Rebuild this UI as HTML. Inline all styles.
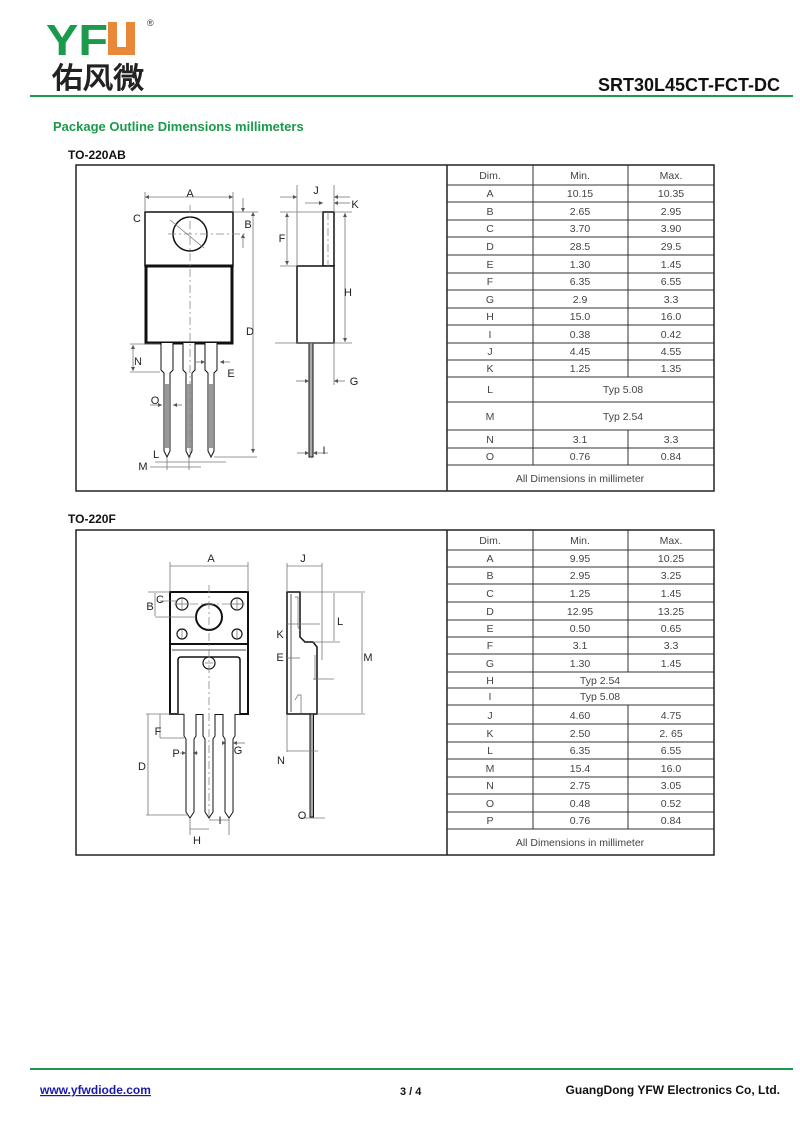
<!DOCTYPE html>
<html><head><meta charset="utf-8"><style>
html,body{margin:0;padding:0;background:#fff;width:800px;height:1130px;overflow:hidden}
svg{display:block}
text{font-family:"Liberation Sans",Arial,sans-serif}
.t{font-size:10.5px;fill:#444;text-anchor:middle}
.lb{font-family:"DejaVu Sans","Liberation Sans",sans-serif;font-size:11px;fill:#222;text-anchor:middle}
.dim{stroke:#777;stroke-width:0.8;fill:none}
.cl{stroke:#888;stroke-width:0.8;stroke-dasharray:8,3,2,3;fill:none}
</style></head><body>
<svg width="800" height="1130" viewBox="0 0 800 1130" xmlns="http://www.w3.org/2000/svg">
<defs>
<marker id="a" viewBox="0 0 6 6" refX="6" refY="3" markerWidth="5" markerHeight="5" orient="auto-start-reverse"><path d="M0,0 L6,3 L0,6 z" fill="#555"/></marker>
</defs>
<!-- header -->
<text x="46" y="55" font-size="44" font-weight="bold" fill="#1a9a4a" font-family="Liberation Sans" textLength="62" lengthAdjust="spacingAndGlyphs">YF</text>
<path d="M108,22 h9 v25 h9 v-25 h9 v33 h-27 z" fill="#e8893a"/>
<text x="147" y="26" font-size="9" fill="#333">®</text>
<text x="52" y="88" font-size="29" fill="#222" font-weight="bold" font-family="Liberation Sans,'Noto Sans CJK SC',sans-serif" textLength="92" lengthAdjust="spacingAndGlyphs">佑风微</text>
<line x1="30" y1="96" x2="793" y2="96" stroke="#1a9a4a" stroke-width="2"/>
<text x="780" y="91" font-size="18" font-weight="bold" fill="#111" text-anchor="end">SRT30L45CT-FCT-DC</text>
<text x="53" y="131" font-size="13" font-weight="bold" fill="#1a9a4a">Package Outline Dimensions millimeters</text>
<text x="68" y="159" font-size="12" font-weight="bold" fill="#111">TO-220AB</text>
<text x="68" y="523" font-size="12" font-weight="bold" fill="#111">TO-220F</text>

<!-- box 1 -->
<rect x="76" y="165" width="638" height="326" fill="none" stroke="#222" stroke-width="1.5"/>
<line x1="447" y1="165" x2="447" y2="491" stroke="#222" stroke-width="1.5"/>
<g stroke="#333" stroke-width="1" fill="none">
<line x1="533" y1="165" x2="533" y2="377"/><line x1="628" y1="165" x2="628" y2="377"/>
<line x1="533" y1="377" x2="533" y2="465"/><line x1="628" y1="430" x2="628" y2="465"/>
<line x1="447" y1="185" x2="714" y2="185"/><line x1="447" y1="202" x2="714" y2="202"/>
<line x1="447" y1="220" x2="714" y2="220"/><line x1="447" y1="237" x2="714" y2="237"/>
<line x1="447" y1="255" x2="714" y2="255"/><line x1="447" y1="273" x2="714" y2="273"/>
<line x1="447" y1="290" x2="714" y2="290"/><line x1="447" y1="308" x2="714" y2="308"/>
<line x1="447" y1="325" x2="714" y2="325"/><line x1="447" y1="343" x2="714" y2="343"/>
<line x1="447" y1="360" x2="714" y2="360"/><line x1="447" y1="377" x2="714" y2="377"/>
<line x1="447" y1="402" x2="714" y2="402"/><line x1="447" y1="430" x2="714" y2="430"/>
<line x1="447" y1="448" x2="714" y2="448"/><line x1="447" y1="465" x2="714" y2="465"/>
</g>
<g class="t">
<text x="490" y="179">Dim.</text><text x="580" y="179">Min.</text><text x="671" y="179">Max.</text>
<text x="490" y="197">A</text><text x="580" y="197">10.15</text><text x="671" y="197">10.35</text>
<text x="490" y="215">B</text><text x="580" y="215">2.65</text><text x="671" y="215">2.95</text>
<text x="490" y="232">C</text><text x="580" y="232">3.70</text><text x="671" y="232">3.90</text>
<text x="490" y="250">D</text><text x="580" y="250">28.5</text><text x="671" y="250">29.5</text>
<text x="490" y="268">E</text><text x="580" y="268">1.30</text><text x="671" y="268">1.45</text>
<text x="490" y="285">F</text><text x="580" y="285">6.35</text><text x="671" y="285">6.55</text>
<text x="490" y="303">G</text><text x="580" y="303">2.9</text><text x="671" y="303">3.3</text>
<text x="490" y="320">H</text><text x="580" y="320">15.0</text><text x="671" y="320">16.0</text>
<text x="490" y="338">I</text><text x="580" y="338">0.38</text><text x="671" y="338">0.42</text>
<text x="490" y="355">J</text><text x="580" y="355">4.45</text><text x="671" y="355">4.55</text>
<text x="490" y="372">K</text><text x="580" y="372">1.25</text><text x="671" y="372">1.35</text>
<text x="490" y="393">L</text><text x="623" y="393">Typ 5.08</text>
<text x="490" y="420">M</text><text x="623" y="420">Typ 2.54</text>
<text x="490" y="443">N</text><text x="580" y="443">3.1</text><text x="671" y="443">3.3</text>
<text x="490" y="460">O</text><text x="580" y="460">0.76</text><text x="671" y="460">0.84</text>
<text x="580" y="482">All Dimensions in millimeter</text>
</g>

<!-- drawing 1 front -->
<g stroke="#111" fill="#fff">
<rect x="145" y="212" width="88" height="54" stroke-width="1.5"/>
<rect x="146" y="266" width="86" height="77" stroke-width="3"/>
<circle cx="190" cy="234" r="17" stroke-width="1.5"/>
<g stroke-width="1">
<path d="M161,343 v27 l3,3 v78 l3,6 l3,-6 v-78 l3,-3 v-27"/>
<path d="M183,343 v27 l3,3 v78 l3,6 l3,-6 v-78 l3,-3 v-27"/>
<path d="M205,343 v27 l3,3 v78 l3,6 l3,-6 v-78 l3,-3 v-27"/>
</g>
</g>
<g fill="#999"><rect x="165" y="384" width="4" height="64"/><rect x="187" y="384" width="4" height="64"/><rect x="209" y="384" width="4" height="64"/></g>
<line class="cl" x1="190" y1="205" x2="190" y2="460"/>
<line class="cl" x1="168" y1="234" x2="248" y2="234"/>
<line class="dim" x1="170" y1="220" x2="204" y2="248"/>
<g class="dim">
<line x1="145" y1="192" x2="145" y2="212"/><line x1="233" y1="192" x2="233" y2="212"/>
<line x1="145" y1="197" x2="233" y2="197" marker-start="url(#a)" marker-end="url(#a)"/>
<line x1="233" y1="212" x2="258" y2="212"/>
<line x1="253" y1="212" x2="253" y2="453" marker-start="url(#a)" marker-end="url(#a)"/>
<line x1="214" y1="457" x2="257" y2="457"/>
<line x1="243" y1="198" x2="243" y2="212" marker-end="url(#a)"/>
<line x1="243" y1="248" x2="243" y2="234" marker-end="url(#a)"/>
<line x1="130" y1="344" x2="160" y2="344"/><line x1="130" y1="372" x2="160" y2="372"/>
<line x1="133" y1="345" x2="133" y2="371" marker-start="url(#a)" marker-end="url(#a)"/>
<line x1="195" y1="362" x2="205" y2="362" marker-end="url(#a)"/><line x1="230" y1="362" x2="220" y2="362" marker-end="url(#a)"/>
<line x1="150" y1="405" x2="162" y2="405" marker-end="url(#a)"/><line x1="182" y1="405" x2="173" y2="405" marker-end="url(#a)"/>
<line x1="155" y1="462" x2="226" y2="462"/>
<line x1="150" y1="467" x2="201" y2="467"/>
<line x1="167" y1="458" x2="167" y2="470"/><line x1="189" y1="458" x2="189" y2="470"/>
</g>
<g class="lb">
<text x="190" y="197">A</text><text x="137" y="222">C</text><text x="248" y="228">B</text>
<text x="250" y="335">D</text><text x="138" y="365">N</text><text x="231" y="377">E</text>
<text x="155" y="404">O</text><text x="156" y="458">L</text><text x="143" y="470">M</text>
</g>
<!-- drawing 1 side -->
<g stroke="#111" fill="#fff" stroke-width="1.5">
<rect x="323" y="212" width="11" height="54"/>
<rect x="297" y="266" width="37" height="77"/>
<rect x="309" y="343" width="4" height="114" stroke-width="1" fill="#aaa"/>
</g>
<line class="cl" x1="328" y1="212" x2="328" y2="266"/>
<g class="dim">
<line x1="297" y1="185" x2="297" y2="266"/><line x1="334" y1="185" x2="334" y2="212"/>
<line x1="280" y1="197" x2="297" y2="197" marker-end="url(#a)"/><line x1="350" y1="197" x2="334" y2="197" marker-end="url(#a)"/>
<line x1="305" y1="203" x2="323" y2="203" marker-end="url(#a)"/><line x1="350" y1="203" x2="334" y2="203" marker-end="url(#a)"/>
<line x1="280" y1="212" x2="323" y2="212"/><line x1="280" y1="266" x2="297" y2="266"/>
<line x1="287" y1="213" x2="287" y2="265" marker-start="url(#a)" marker-end="url(#a)"/>
<line x1="334" y1="212" x2="352" y2="212"/><line x1="275" y1="343" x2="352" y2="343"/>
<line x1="345" y1="213" x2="345" y2="342" marker-start="url(#a)" marker-end="url(#a)"/>
<line x1="334" y1="343" x2="334" y2="385"/>
<line x1="296" y1="381" x2="309" y2="381" marker-end="url(#a)"/><line x1="345" y1="381" x2="334" y2="381" marker-end="url(#a)"/>
<line x1="297" y1="453" x2="309" y2="453" marker-end="url(#a)"/><line x1="328" y1="453" x2="313" y2="453" marker-end="url(#a)"/>
</g>
<g class="lb">
<text x="316" y="194">J</text><text x="355" y="208">K</text><text x="282" y="242">F</text>
<text x="348" y="296">H</text><text x="354" y="385">G</text><text x="324" y="454">I</text>
</g>

<!-- box 2 -->
<rect x="76" y="530" width="638" height="325" fill="none" stroke="#222" stroke-width="1.5"/>
<line x1="447" y1="530" x2="447" y2="855" stroke="#222" stroke-width="1.5"/>
<g stroke="#333" stroke-width="1" fill="none">
<line x1="533" y1="530" x2="533" y2="829"/>
<line x1="628" y1="530" x2="628" y2="672"/><line x1="628" y1="705" x2="628" y2="829"/>
<line x1="447" y1="550" x2="714" y2="550"/><line x1="447" y1="567" x2="714" y2="567"/>
<line x1="447" y1="584" x2="714" y2="584"/><line x1="447" y1="602" x2="714" y2="602"/>
<line x1="447" y1="620" x2="714" y2="620"/><line x1="447" y1="637" x2="714" y2="637"/>
<line x1="447" y1="654" x2="714" y2="654"/><line x1="447" y1="672" x2="714" y2="672"/>
<line x1="447" y1="688" x2="714" y2="688"/><line x1="447" y1="705" x2="714" y2="705"/>
<line x1="447" y1="724" x2="714" y2="724"/><line x1="447" y1="742" x2="714" y2="742"/>
<line x1="447" y1="759" x2="714" y2="759"/><line x1="447" y1="777" x2="714" y2="777"/>
<line x1="447" y1="794" x2="714" y2="794"/><line x1="447" y1="812" x2="714" y2="812"/>
<line x1="447" y1="829" x2="714" y2="829"/>
</g>
<g class="t">
<text x="490" y="544">Dim.</text><text x="580" y="544">Min.</text><text x="671" y="544">Max.</text>
<text x="490" y="562">A</text><text x="580" y="562">9.95</text><text x="671" y="562">10.25</text>
<text x="490" y="579">B</text><text x="580" y="579">2.95</text><text x="671" y="579">3.25</text>
<text x="490" y="597">C</text><text x="580" y="597">1.25</text><text x="671" y="597">1.45</text>
<text x="490" y="615">D</text><text x="580" y="615">12.95</text><text x="671" y="615">13.25</text>
<text x="490" y="632">E</text><text x="580" y="632">0.50</text><text x="671" y="632">0.65</text>
<text x="490" y="649">F</text><text x="580" y="649">3.1</text><text x="671" y="649">3.3</text>
<text x="490" y="667">G</text><text x="580" y="667">1.30</text><text x="671" y="667">1.45</text>
<text x="490" y="684">H</text><text x="600" y="684">Typ 2.54</text>
<text x="490" y="700">I</text><text x="600" y="700">Typ 5.08</text>
<text x="490" y="719">J</text><text x="580" y="719">4.60</text><text x="671" y="719">4.75</text>
<text x="490" y="737">K</text><text x="580" y="737">2.50</text><text x="671" y="737">2. 65</text>
<text x="490" y="754">L</text><text x="580" y="754">6.35</text><text x="671" y="754">6.55</text>
<text x="490" y="772">M</text><text x="580" y="772">15.4</text><text x="671" y="772">16.0</text>
<text x="490" y="789">N</text><text x="580" y="789">2.75</text><text x="671" y="789">3.05</text>
<text x="490" y="807">O</text><text x="580" y="807">0.48</text><text x="671" y="807">0.52</text>
<text x="490" y="824">P</text><text x="580" y="824">0.76</text><text x="671" y="824">0.84</text>
<text x="580" y="846">All Dimensions in millimeter</text>
</g>

<!-- drawing 2 front -->
<g stroke="#111" fill="#fff">
<rect x="170" y="592" width="78" height="122" stroke-width="2"/>
<line x1="170" y1="644" x2="248" y2="644" stroke-width="2"/>
<line x1="172" y1="650" x2="246" y2="650" stroke-width="0.8"/>
<path d="M178,714 V660 q0,-3 3,-3 H237 q3,0 3,3 V714" stroke-width="1.5"/>
<circle cx="209" cy="617" r="13" stroke-width="2"/>
<circle cx="182" cy="604" r="6" stroke-width="1.2"/><circle cx="237" cy="604" r="6" stroke-width="1.2"/>
<circle cx="182" cy="634" r="5" stroke-width="1.2"/><circle cx="237" cy="634" r="5" stroke-width="1.2"/>
<circle cx="209" cy="663" r="6" stroke-width="1.2"/>
<g stroke-width="1">
<path d="M184,714 v22 l2,3 v73 l4,6 l4,-6 v-73 l2,-3 v-22"/>
<path d="M203,714 v22 l2,3 v73 l4,6 l4,-6 v-73 l2,-3 v-22"/>
<path d="M223,714 v22 l2,3 v73 l4,6 l4,-6 v-73 l2,-3 v-22"/>
</g>
</g>
<g stroke="#555" stroke-width="0.6"><line x1="182" y1="599" x2="182" y2="609"/><line x1="177" y1="604" x2="187" y2="604"/><line x1="237" y1="599" x2="237" y2="609"/><line x1="232" y1="604" x2="242" y2="604"/><line x1="182" y1="630" x2="182" y2="638"/><line x1="237" y1="630" x2="237" y2="638"/><line x1="205" y1="663" x2="213" y2="663"/></g>
<line class="cl" x1="209" y1="585" x2="209" y2="820"/>
<line class="cl" x1="174" y1="604" x2="245" y2="604"/>
<g class="dim">
<line x1="170" y1="562" x2="170" y2="592"/><line x1="248" y1="562" x2="248" y2="592"/>
<line x1="170" y1="566" x2="248" y2="566"/>
<line x1="148" y1="592" x2="170" y2="592"/><line x1="160" y1="601" x2="178" y2="601"/><line x1="155" y1="617" x2="196" y2="617"/>
<line x1="155" y1="593" x2="155" y2="616"/>
<line x1="146" y1="714" x2="184" y2="714"/><line x1="146" y1="815" x2="187" y2="815"/>
<line x1="148" y1="714" x2="148" y2="815"/>
<line x1="160" y1="738" x2="184" y2="738"/><line x1="160" y1="714" x2="160" y2="738"/>
<line x1="180" y1="753" x2="186" y2="753" marker-end="url(#a)"/><line x1="198" y1="753" x2="193" y2="753" marker-end="url(#a)"/>
<line x1="222" y1="743" x2="226" y2="743" marker-end="url(#a)"/><line x1="245" y1="743" x2="233" y2="743" marker-end="url(#a)"/>
<line x1="190" y1="818" x2="190" y2="835"/><line x1="229" y1="818" x2="229" y2="835"/>
<line x1="190" y1="829" x2="209" y2="829"/><line x1="209" y1="820" x2="229" y2="820"/>
</g>
<g class="lb">
<text x="211" y="562">A</text><text x="160" y="603">C</text><text x="150" y="610">B</text>
<text x="158" y="735">F</text><text x="176" y="757">P</text><text x="238" y="754">G</text>
<text x="142" y="770">D</text><text x="220" y="824">I</text><text x="197" y="844">H</text>
</g>
<!-- drawing 2 side -->
<g stroke="#111" fill="#fff" stroke-width="1.5">
<path d="M287,592 H300 V637 l5,5 H313 l4,5 V714 H287 z"/>
<rect x="310" y="714" width="3.5" height="103" stroke-width="1" fill="#aaa"/>
</g>
<path d="M291,594 V712" stroke="#333" stroke-width="0.8" fill="none"/>
<path d="M295,597 h3 v30 l3,5" stroke="#666" stroke-width="0.7" fill="none"/>
<path d="M295,700 l3,-5 h3 v18" stroke="#666" stroke-width="0.7" fill="none"/>
<g class="dim">
<line x1="287" y1="563" x2="287" y2="592"/><line x1="322" y1="563" x2="322" y2="660"/>
<line x1="287" y1="566" x2="322" y2="566"/>
<line x1="300" y1="592" x2="365" y2="592"/><line x1="313" y1="642" x2="340" y2="642"/>
<line x1="334" y1="593" x2="334" y2="641"/>
<line x1="317" y1="714" x2="365" y2="714"/>
<line x1="362" y1="593" x2="362" y2="713"/>
<line x1="287" y1="624" x2="320" y2="624"/><line x1="287" y1="658" x2="300" y2="658"/>
<line x1="313" y1="679" x2="334" y2="679"/><line x1="315" y1="655" x2="315" y2="680"/>
<line x1="287" y1="714" x2="287" y2="752"/><line x1="287" y1="751" x2="318" y2="751"/>
<line x1="300" y1="818" x2="325" y2="818"/>
</g>
<g class="lb">
<text x="303" y="562">J</text><text x="340" y="625">L</text><text x="280" y="638">K</text>
<text x="280" y="661">E</text><text x="368" y="661">M</text><text x="281" y="764">N</text><text x="302" y="819">O</text>
</g>

<!-- footer -->
<line x1="30" y1="1069" x2="793" y2="1069" stroke="#1a9a4a" stroke-width="2"/>
<text x="40" y="1094" font-size="12" font-weight="bold" fill="#1a1aa8" text-decoration="underline">www.yfwdiode.com</text>
<text x="400" y="1095" font-size="11" font-weight="bold" fill="#111">3 / 4</text>
<text x="780" y="1094" font-size="12" font-weight="bold" fill="#111" text-anchor="end">GuangDong YFW Electronics Co, Ltd.</text>
</svg>
</body></html>
